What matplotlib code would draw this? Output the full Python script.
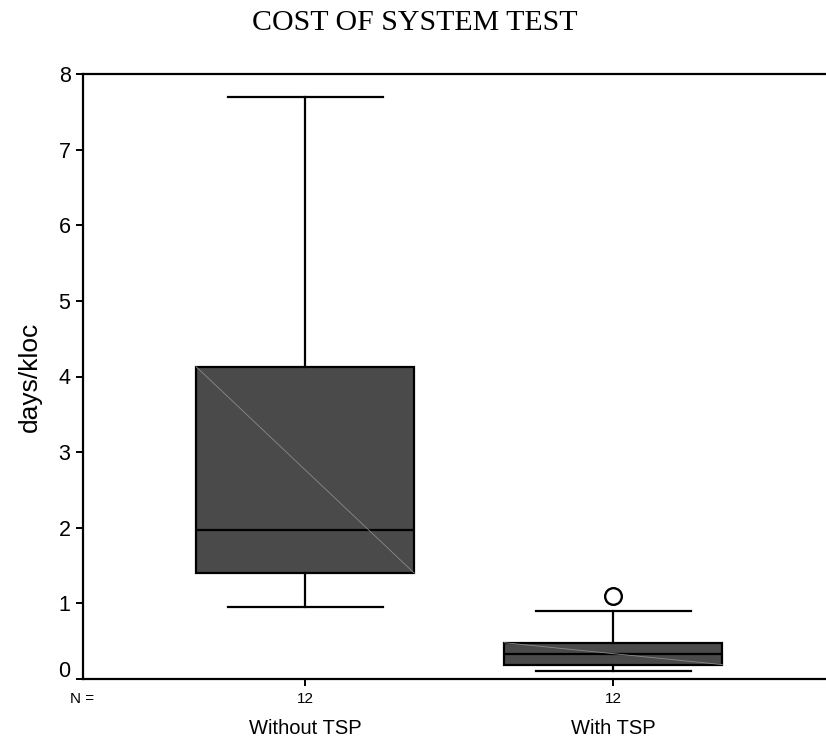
import matplotlib
matplotlib.use("Agg")
import matplotlib.pyplot as plt
import matplotlib.transforms as mtransforms

# box statistics (days/kloc)
groups = ["Without TSP", "With TSP"]
counts = [12, 12]
medians = [1.97, 0.33]
q1s = [1.40, 0.19]
q3s = [4.13, 0.48]
whis_lo = [0.95, 0.10]
whis_hi = [7.70, 0.90]
outliers = [[], [1.10]]

box_color = "#4a4a4a"
positions = [1, 2]
box_w = 0.708

plt.rcParams["font.family"] = ["Liberation Sans", "DejaVu Sans"]

fig = plt.figure(figsize=(8.26, 7.38), dpi=100)
ax = fig.add_axes([83 / 826, 59 / 738, 743 / 826, 605 / 738])

stats = []
for i, name in enumerate(groups):
    stats.append({
        "label": name,
        "med": medians[i],
        "q1": q1s[i],
        "q3": q3s[i],
        "whislo": whis_lo[i],
        "whishi": whis_hi[i],
        "fliers": outliers[i],
    })

ax.bxp(
    stats,
    positions=positions,
    widths=box_w,
    patch_artist=True,
    boxprops=dict(facecolor=box_color, edgecolor="black", linewidth=1.6),
    medianprops=dict(color="black", linewidth=1.6),
    whiskerprops=dict(color="black", linewidth=1.6),
    capprops=dict(color="black", linewidth=1.6),
    capwidths=0.503,
    flierprops=dict(marker="o", markersize=12, markerfacecolor="white",
                    markeredgecolor="black", markeredgewidth=1.7),
    zorder=3,
)

# thin light diagonal drawn across each box
for p, lo, hi in zip(positions, q1s, q3s):
    ax.plot([p - box_w / 2, p + box_w / 2], [hi, lo], color="#8a8a8a",
            linewidth=0.6, zorder=4)

ax.set_xlim(0.279, 2.69)
ax.set_ylim(0, 8)
ax.set_yticks(range(0, 9))
ax.spines["right"].set_visible(False)
for s in ["left", "top", "bottom"]:
    ax.spines[s].set_linewidth(1.6)
ax.tick_params(axis="y", direction="out", length=5, width=1.4, labelsize=15.5, pad=4)
ax.tick_params(axis="x", direction="out", length=5, width=1.4, labelsize=14.5, pad=24)
ax.set_xticks(positions)
ax.set_xticklabels(groups)
ax.set_ylabel("days/kloc", fontsize=19)
ax.yaxis.set_label_coords(-0.056, 0.5)

# the "0" label sits a little above its tick in the original
zero_lbl = ax.get_yticklabels()[0]
zero_lbl.set_transform(zero_lbl.get_transform() +
                       mtransforms.ScaledTranslation(0, 0.1, fig.dpi_scale_trans))

# sample sizes under each box
tr = ax.get_xaxis_transform()
ax.text(0.277, -0.033, "N =", transform=tr, ha="center", va="center", fontsize=11,
        clip_on=False)
for p, n in zip(positions, counts):
    ax.text(p, -0.033, str(n), transform=tr, ha="center", va="center",
            fontsize=11, clip_on=False)

fig.text(415 / 826, 1 - 23 / 738, "COST OF SYSTEM TEST", ha="center", va="center",
         fontsize=21.5, family=["Liberation Serif", "DejaVu Serif"])

fig.savefig("out.png", dpi=100)
